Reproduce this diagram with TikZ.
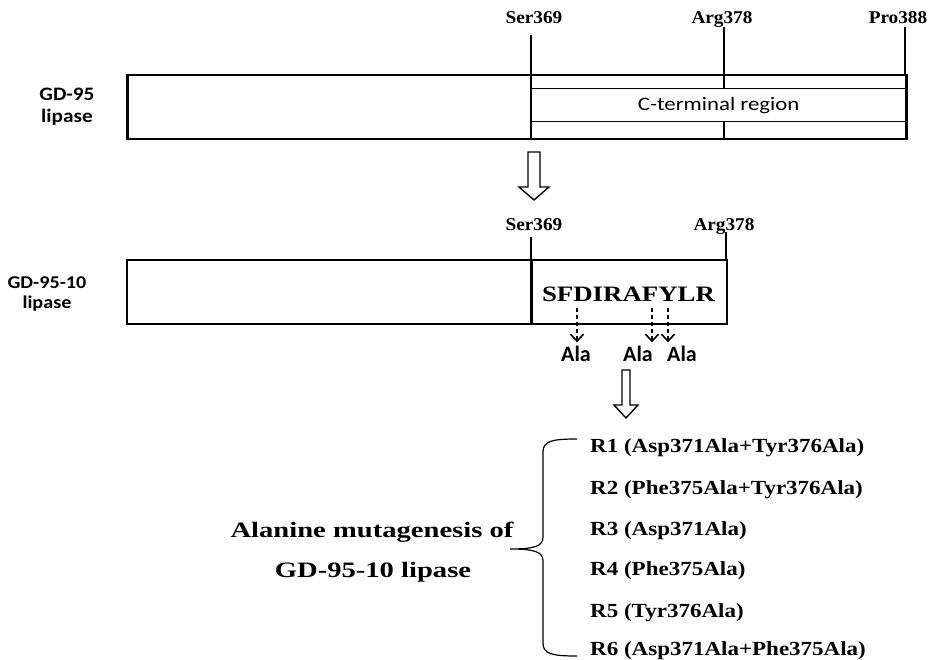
\documentclass[tikz,border=0pt]{standalone}
\usepackage{fontspec}
\setmainfont{Liberation Serif}
\newfontfamily\resfont[FakeStretch=1.07]{Liberation Serif}
\newfontfamily\listfont[FakeStretch=1.15]{Liberation Serif}
\newfontfamily\bigfont[FakeStretch=1.3]{Liberation Serif}
\newfontfamily\seqfont[FakeStretch=1.22]{Liberation Serif}
\newfontfamily\calfont[FakeStretch=1.12]{Carlito}
\newfontfamily\calwide[FakeStretch=1.2]{Carlito}
\newfontfamily\alafont{Carlito}
\usetikzlibrary{arrows.meta}
\tikzset{
  res/.style={font=\resfont\bfseries\fontsize{18}{20}\selectfont, inner sep=0pt, anchor=base},
  lbl/.style={font=\calfont\bfseries\fontsize{19}{22}\selectfont, align=center, inner sep=0pt},
  rlist/.style={font=\listfont\bfseries\fontsize{20}{22}\selectfont, anchor=base west, inner sep=0pt},
  bigtext/.style={font=\bigfont\bfseries\fontsize{22}{24}\selectfont, anchor=base, inner sep=0pt},
  seq/.style={font=\seqfont\bfseries\fontsize{22}{24}\selectfont, anchor=base, inner sep=0pt},
  ala/.style={font=\alafont\bfseries\fontsize{22}{24}\selectfont, anchor=base, inner sep=0pt},
  leader/.style={line width=1.1pt},
  dasharrow/.style={line width=1.8pt, dash pattern=on 4.5pt off 2.5pt, shorten >=4pt,
    -{Straight Barb[length=7pt,width=13pt,line width=1.6pt]}},
  hollow/.style={line width=1.4pt, fill=white},
}
\begin{document}
\begin{tikzpicture}[x=1pt,y=-1pt]
\useasboundingbox (0,0) rectangle (935,660);

% ---------- top construct ----------
\node[draw, line width=2.5pt, minimum width=779pt, minimum height=64pt, inner sep=0pt,
      anchor=north west] (box1) at (126,74) {};
\node[draw, line width=1.3pt, minimum width=374pt, minimum height=33pt, inner sep=0pt,
      anchor=north west, font=\calwide\fontsize{19}{21}\selectfont] (cterm) at (531,88) {C-terminal region};

\node[res] (ser1) at (534,24) {Ser369};
\node[res] (arg1) at (722,24) {Arg378};
\node[res] (pro1) at (898,24) {Pro388};
\coordinate (s1) at (531,35);
\coordinate (r1) at (724,27);
\coordinate (p1) at (905,27);
\draw[leader] (s1) -- (s1 |- box1.north);
\draw[line width=2pt] (s1 |- box1.north) -- (s1 |- box1.south);
\draw[leader] (r1) -- (r1 |- box1.north);
\draw[line width=1.8pt] (r1 |- box1.north) -- (r1 |- cterm.north);
\draw[line width=1.8pt] (r1 |- cterm.south) -- (r1 |- box1.south);
\draw[leader] (p1) -- (p1 |- box1.north);

\node[lbl] (lab1) at (67,107) {GD-95\\lipase};

% ---------- hollow arrow 1 ----------
\draw[hollow] (528,152) -- (540,152) -- (540,187) -- (549,187) -- (534,200) -- (519,187) -- (528,187) -- cycle;

% ---------- second construct ----------
\node[draw, line width=2.2pt, minimum width=600pt, minimum height=64pt, inner sep=0pt,
      anchor=north west] (box2) at (126,259) {};
\node[res] (ser2) at (534,231) {Ser369};
\node[res] (arg2) at (724,231) {Arg378};
\coordinate (s2) at (531,237);
\coordinate (r2) at (726,232);
\draw[leader] (s2) -- (s2 |- box2.north);
\draw[line width=3pt] (s2 |- box2.north) -- (s2 |- box2.south);
\draw[leader] (r2) -- (r2 |- box2.north);

\node[lbl, font=\calfont\bfseries\fontsize{18}{20}\selectfont] (lab2) at (47,294) {GD-95-10\\lipase};

\node[seq] (seqn) at (628.5,302) {SFDIRAFYLR};
\coordinate (dD) at (577,308);
\coordinate (dF) at (652,308);
\coordinate (dY) at (668,308);

\node[ala] (a1) at (576,362) {Ala};
\node[ala] (a2) at (638,362) {Ala};
\node[ala] (a3) at (682,362) {Ala};
\draw[dasharrow] (dD) -- (dD |- a1.north);
\draw[dasharrow] (dF) -- (dF |- a2.north);
\draw[dasharrow] (dY) -- (dY |- a3.north);

% ---------- hollow arrow 2 ----------
\draw[hollow] (622,370) -- (630,370) -- (630,405) -- (638,405) -- (626,418) -- (614,405) -- (622,405) -- cycle;

% ---------- mutants ----------
\node[bigtext] (t1) at (372,537) {Alanine mutagenesis of};
\node[bigtext] (t2) at (373,577) {GD-95-10 lipase};

\coordinate (tip) at (510,549);
\draw[line width=1.2pt] (577,439) .. controls (552,439) and (543,441) .. (543,452)
  -- (543,537) .. controls (543,546) and (535,549) .. (tip)
  .. controls (535,549) and (543,552) .. (543,561)
  -- (543,643) .. controls (543,654) and (552,656) .. (577,656);

\node[rlist] (m1) at (590,452) {R1 (Asp371Ala+Tyr376Ala)};
\node[rlist] (m2) at (590,494) {R2 (Phe375Ala+Tyr376Ala)};
\node[rlist] (m3) at (590,535) {R3 (Asp371Ala)};
\node[rlist] (m4) at (590,575) {R4 (Phe375Ala)};
\node[rlist] (m5) at (590,617) {R5 (Tyr376Ala)};
\node[rlist] (m6) at (590,655) {R6 (Asp371Ala+Phe375Ala)};
\end{tikzpicture}
\end{document}
